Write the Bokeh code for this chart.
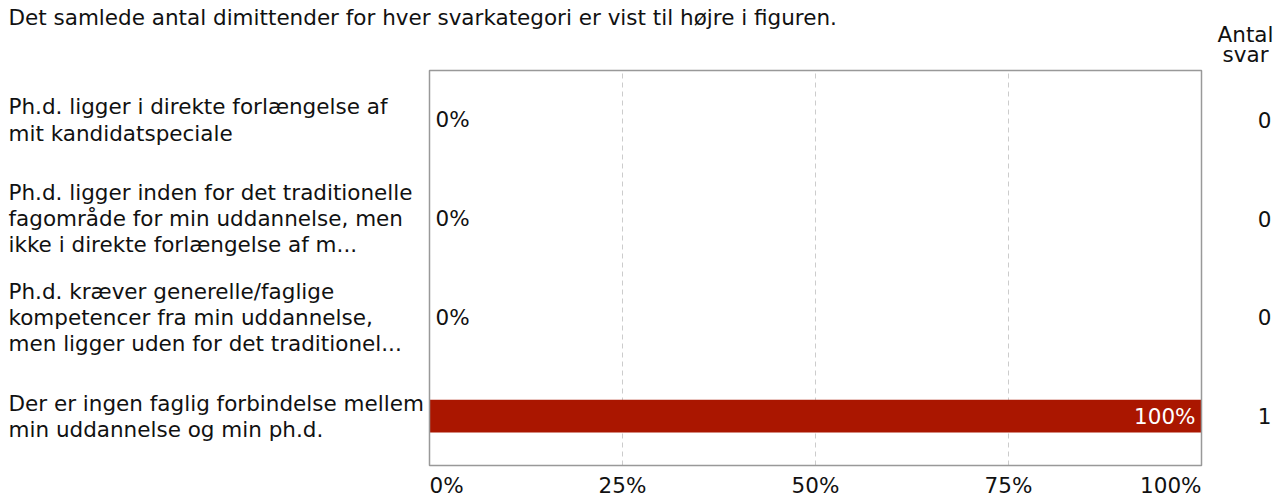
from bokeh.plotting import figure
from bokeh.models import ColumnDataSource, Range1d
from bokeh.core.properties import value
from bokeh.embed import file_html
from bokeh.resources import INLINE

title_text = "Det samlede antal dimittender for hver svarkategori er vist til højre i figuren."
categories = [
    "Ph.d. ligger i direkte forlængelse af\nmit kandidatspeciale",
    "Ph.d. ligger inden for det traditionelle\nfagområde for min uddannelse, men\nikke i direkte forlængelse af m...",
    "Ph.d. kræver generelle/faglige\nkompetencer fra min uddannelse,\nmen ligger uden for det traditionel...",
    "Der er ingen faglig forbindelse mellem\nmin uddannelse og min ph.d.",
]
percent = [0, 0, 0, 100]
counts = [0, 0, 0, 1]
x_ticks = [0, 25, 50, 75, 100]
x_tick_labels = ["0%", "25%", "50%", "75%", "100%"]
count_header = "Antal\nsvar"

FONT = value("DejaVu Sans")
FS = value("21.5px")
TXT = "#111111"
BAR = "#AA1600"

W, H = 1274, 500
# plot area in page pixels
FL, FR, FT, FB = 429, 1201, 70, 465
n = len(categories)
xmax = x_ticks[-1]
ppx = (FR - FL) / xmax          # px per percent
ppy = (FB - FT) / n             # px per category band

p = figure(
    width=W, height=H,
    x_range=Range1d(-FL / ppx, xmax + (W - FR) / ppx),
    y_range=Range1d(-(H - FB) / ppy, n + FT / ppy),
    output_backend="svg", toolbar_location=None,
    min_border=0, min_border_left=0, min_border_right=0, min_border_top=0, min_border_bottom=0,
)
p.axis.visible = False
p.grid.visible = False
p.outline_line_color = None

ypos = [n - i - 0.5 for i in range(n)]
src = ColumnDataSource(dict(cat=categories, y=ypos, pct=percent, cnt=[str(c) for c in counts]))

# grid lines (inner ticks)
inner = x_ticks[1:-1]
p.segment(x0=inner, x1=inner, y0=[0] * len(inner), y1=[n] * len(inner),
          line_color="#cccccc", line_dash="5 4", line_width=1)

# bars
p.hbar(y="y", right="pct", left=0, height=0.334, source=src, color=BAR, line_color=None)

# plot frame
p.quad(left=[x_ticks[0]], right=[xmax], bottom=[0], top=[n], fill_color=None,
       line_color="#999999", line_width=1.5)

# category labels
p.text(x=0, y="y", text="cat", source=src, x_offset=8 - FL,
       text_font=FONT, text_font_size=FS, text_color=TXT,
       text_align="left", text_baseline="middle", text_line_height=1.05)

# value labels
big = [i for i, v in enumerate(percent) if v >= 15]
small = [i for i, v in enumerate(percent) if v < 15]
src_big = ColumnDataSource(dict(y=[ypos[i] for i in big], pct=[percent[i] for i in big],
                                lab=[f"{percent[i]}%" for i in big]))
src_small = ColumnDataSource(dict(y=[ypos[i] for i in small], pct=[percent[i] for i in small],
                                  lab=[f"{percent[i]}%" for i in small]))
p.text(x="pct", y="y", text="lab", source=src_big, x_offset=-6,
       text_font=FONT, text_font_size=FS, text_color="white",
       text_align="right", text_baseline="middle")
p.text(x="pct", y="y", text="lab", source=src_small, x_offset=6,
       text_font=FONT, text_font_size=FS, text_color=TXT,
       text_align="left", text_baseline="middle")

# count labels and header
p.text(x=xmax, y="y", text="cnt", source=src, x_offset=1271 - FR,
       text_font=FONT, text_font_size=FS, text_color=TXT,
       text_align="right", text_baseline="middle")
p.text(x=[xmax], y=[n], text=[count_header], x_offset=1245 - FR, y_offset=21 - FT,
       text_font=FONT, text_font_size=FS, text_color=TXT,
       text_align="center", text_baseline="top", text_line_height=0.8)

# title
p.text(x=[0], y=[n], text=[title_text], x_offset=8 - FL, y_offset=17 - FT,
       text_font=FONT, text_font_size=FS, text_color=TXT,
       text_align="left", text_baseline="alphabetic")

# x tick labels
aligns = ["left" if t == x_ticks[0] else ("right" if t == x_ticks[-1] else "center") for t in x_ticks]
tsrc = ColumnDataSource(dict(x=x_ticks, y=[0] * len(x_ticks), lab=x_tick_labels, al=aligns))
p.text(x="x", y="y", text="lab", source=tsrc, y_offset=485 - FB,
       text_font=FONT, text_font_size=FS, text_color=TXT,
       text_align="al", text_baseline="middle")

open("out.html", "w").write(file_html(p, INLINE))
